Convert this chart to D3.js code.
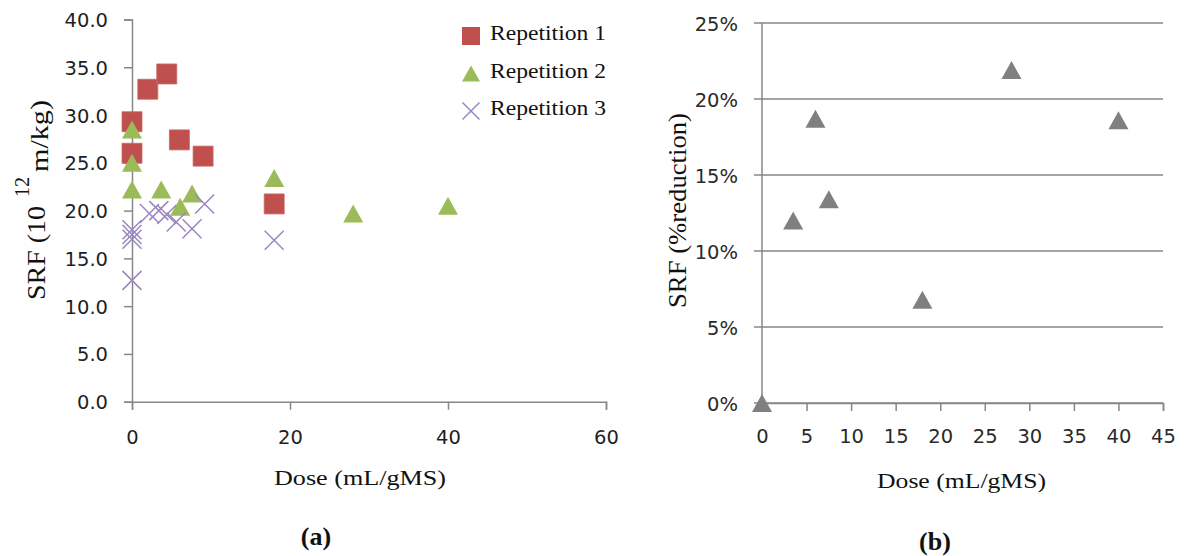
<!DOCTYPE html>
<html>
<head>
<meta charset="utf-8">
<script src="https://cdn.jsdelivr.net/npm/d3@7"></script>
<style>
  html, body { margin: 0; padding: 0; background: #fff; }
  svg { display: block; }
  .tick-label { font-family: "DejaVu Sans", sans-serif; font-size: 19.5px; fill: #1f1f1f; }
  .serif { font-family: "Liberation Serif", "Times New Roman", serif; fill: #111; }
</style>
</head>
<body>
<svg id="chart" width="1184" height="556"></svg>
<script>
// ---- Panel (a): SRF vs dose, three repetitions ----
const rep1 = [[0, 29.3], [0, 26.0], [2, 32.7], [4.4, 34.3], [6, 27.4], [9, 25.7], [18, 20.7]];
const rep2 = [[0, 28.5], [0, 25.0], [0, 22.2], [3.7, 22.2], [6.1, 20.4], [7.6, 21.8], [18, 23.4], [28, 19.7], [40, 20.5]];
const rep3 = [[0, 12.7], [0, 17.0], [0, 17.5], [0, 18.0], [2.2, 19.7], [3.4, 20.0], [4.4, 19.6], [5.6, 18.8], [7.6, 18.1], [9.2, 20.7], [18, 16.9]];
const seriesNames = ["Repetition 1", "Repetition 2", "Repetition 3"];
const xTicksA = [0, 20, 40, 60];
const yTicksA = [0, 5, 10, 15, 20, 25, 30, 35, 40];

// ---- Panel (b): SRF reduction vs dose ----
const doseB = [0, 3.5, 6, 7.5, 18, 28, 40];
const reductionB = [0, 0.120, 0.187, 0.134, 0.068, 0.219, 0.186];
const xTicksB = [0, 5, 10, 15, 20, 25, 30, 35, 40, 45];
const yTicksB = [0, 0.05, 0.10, 0.15, 0.20, 0.25];

const svg = d3.select("#chart");
const axisColor = "#878787";
const colors = { r1: "#C0504D", r2: "#9BBB59", r3: "#9A86C0", gray: "#808080" };

// marker paths centred on their bounding box
function squarePath(s) { const h = s / 2; return `M${-h},${-h}H${h}V${h}H${-h}Z`; }
function trianglePath(w, hgt) { return `M0,${-hgt / 2}L${w / 2},${hgt / 2}L${-w / 2},${hgt / 2}Z`; }
function crossPath(s) { const h = s / 2; return `M${-h},${-h}L${h},${h}M${h},${-h}L${-h},${h}`; }

// serif label stretched to a fixed advance width
function serifText(g, x, y, size, width, str) {
  return g.append("text").attr("class", "serif").attr("x", x).attr("y", y)
    .style("font-size", size + "px")
    .attr("textLength", width).attr("lengthAdjust", "spacingAndGlyphs")
    .text(str);
}

// vertical (bottom-to-top) serif title; glyphs widened across the baseline
function verticalGroup(g, x, y) {
  return g.append("g").attr("transform", `translate(${x},${y}) rotate(-90) scale(1,1.25)`);
}

// ================= Panel (a) =================
const xA = d3.scaleLinear().domain([0, 60]).range([132, 606]);
const yA = d3.scaleLinear().domain([0, 40]).range([401.7, 19.5]);
const gA = svg.append("g");

// y axis: ticks outward to the left
const yAxisA = d3.axisLeft(yA).tickValues(yTicksA).tickSize(8).tickPadding(16).tickFormat(d3.format(".1f"));
gA.append("g").attr("transform", `translate(${xA(0)},0)`).call(yAxisA)
  .call(g => g.select(".domain").attr("stroke", axisColor).attr("stroke-width", 1.5))
  .call(g => g.selectAll(".tick line").attr("stroke", axisColor).attr("stroke-width", 1.5))
  .call(g => g.selectAll(".tick text").attr("class", "tick-label").attr("dy", "0.36em"));

// x axis: ticks downward
const xAxisA = d3.axisBottom(xA).tickValues(xTicksA).tickSize(8).tickPadding(20).tickFormat(d3.format("d"));
gA.append("g").attr("transform", `translate(0,${yA(0)})`).call(xAxisA)
  .call(g => g.select(".domain").attr("stroke", axisColor).attr("stroke-width", 1.5))
  .call(g => g.selectAll(".tick line").attr("stroke", axisColor).attr("stroke-width", 1.5))
  .call(g => g.selectAll(".tick text").attr("class", "tick-label"));

// markers
gA.append("g").selectAll("path").data(rep1).join("path")
  .attr("d", squarePath(20))
  .attr("transform", d => `translate(${xA(d[0])},${yA(d[1])})`)
  .attr("fill", colors.r1).attr("stroke", "#c86a67").attr("stroke-width", 0.8);
gA.append("g").selectAll("path").data(rep2).join("path")
  .attr("d", trianglePath(20, 18))
  .attr("transform", d => `translate(${xA(d[0])},${yA(d[1])})`)
  .attr("fill", colors.r2);
gA.append("g").selectAll("path").data(rep3).join("path")
  .attr("d", crossPath(19))
  .attr("transform", d => `translate(${xA(d[0])},${yA(d[1])})`)
  .attr("fill", "none").attr("stroke", colors.r3).attr("stroke-width", 1.5);

// legend
const legend = gA.append("g").attr("transform", "translate(471,36)");
const legendMarks = [
  g => g.append("path").attr("d", squarePath(18)).attr("fill", colors.r1),
  g => g.append("path").attr("d", trianglePath(18, 16)).attr("fill", colors.r2),
  g => g.append("path").attr("d", crossPath(17)).attr("fill", "none").attr("stroke", colors.r3).attr("stroke-width", 1.5)
];
seriesNames.forEach((name, i) => {
  const row = legend.append("g").attr("transform", `translate(0,${i * 37.5})`);
  legendMarks[i](row);
  serifText(row, 19, 4, 22, 116, name);
});

// axis titles
serifText(gA, 274, 485, 22, 172, "Dose (mL/gMS)");
const yTitleA = verticalGroup(gA, 45, 300);
serifText(yTitleA, 0, 0, 20, 94, "SRF (10");
serifText(yTitleA, 103, -13, 17, 20, "12");
serifText(yTitleA, 128, 2, 20, 72, "m/kg)");

gA.append("text").attr("class", "serif").attr("x", 316).attr("y", 545)
  .attr("text-anchor", "middle").style("font-size", "26px").style("font-weight", "bold").text("(a)");

// ================= Panel (b) =================
const xB = d3.scaleLinear().domain([0, 45]).range([762, 1163]);
const yB = d3.scaleLinear().domain([0, 0.25]).range([403, 23]);
const gB = svg.append("g");

// horizontal gridlines, extending slightly left of the value axis
gB.append("g").selectAll("line").data(yTicksB).join("line")
  .attr("x1", xB(0) - 8).attr("x2", xB(45))
  .attr("y1", d => yB(d)).attr("y2", d => yB(d))
  .attr("stroke", axisColor).attr("stroke-width", 1.5);

gB.append("line").attr("x1", xB(0)).attr("x2", xB(0)).attr("y1", yB(0.25)).attr("y2", yB(0))
  .attr("stroke", axisColor).attr("stroke-width", 1.5);

const yAxisB = d3.axisLeft(yB).tickValues(yTicksB).tickSize(0).tickPadding(24).tickFormat(d3.format(".0%"));
gB.append("g").attr("transform", `translate(${xB(0)},0)`).call(yAxisB)
  .call(g => g.select(".domain").remove())
  .call(g => g.selectAll(".tick text").attr("class", "tick-label").attr("dy", "0.36em").style("fill", "#2a2a2a"));

const xAxisB = d3.axisBottom(xB).tickValues(xTicksB).tickSize(8).tickPadding(18).tickFormat(d3.format("d"));
gB.append("g").attr("transform", `translate(0,${yB(0)})`).call(xAxisB)
  .call(g => g.select(".domain").attr("stroke", axisColor).attr("stroke-width", 1.5))
  .call(g => g.selectAll(".tick line").attr("stroke", axisColor).attr("stroke-width", 1.5))
  .call(g => g.selectAll(".tick text").attr("class", "tick-label").style("fill", "#2a2a2a"));

gB.append("g").selectAll("path").data(doseB.map((d, i) => [d, reductionB[i]])).join("path")
  .attr("d", trianglePath(20, 18))
  .attr("transform", d => `translate(${xB(d[0])},${yB(d[1])})`)
  .attr("fill", colors.gray);

serifText(gB, 877, 488, 22, 169, "Dose (mL/gMS)");
const yTitleB = verticalGroup(gB, 686, 308);
serifText(yTitleB, 0, 0, 20, 195, "SRF (%reduction)");
gB.append("text").attr("class", "serif").attr("x", 935).attr("y", 550)
  .attr("text-anchor", "middle").style("font-size", "26px").style("font-weight", "bold").text("(b)");
</script>
</body>
</html>
